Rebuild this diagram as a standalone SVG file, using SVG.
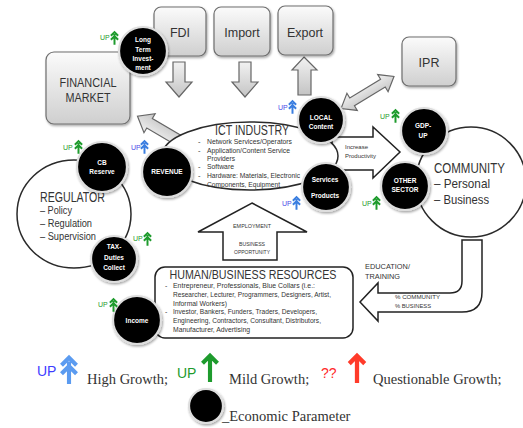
<svg xmlns="http://www.w3.org/2000/svg" xmlns:xlink="http://www.w3.org/1999/xlink" width="523" height="428" viewBox="0 0 523 428">
<style>
.box{fill:url(#gBox);stroke:#6e6e6e;stroke-width:1.2;filter:url(#sh)}
.bx{font-family:"Liberation Sans","Open Sans",sans-serif;font-size:12.5px;fill:#333;text-anchor:middle}
.garr{fill:url(#gArr);stroke:#666;stroke-width:1.2}
.warr{fill:#fff;stroke:#222;stroke-width:1.5}
.ring{fill:#fff;stroke:#2a2a2a;stroke-width:1.5}
.ep{fill:#000;stroke:#dedede;stroke-width:2.2;filter:url(#sh)}
.ept{font-family:"Liberation Sans",sans-serif;font-weight:bold;fill:#fff;text-anchor:middle;font-size:6.5px}
.t{font-family:"Liberation Sans","Open Sans",sans-serif;fill:#333}
.small{font-family:"Liberation Sans",sans-serif;fill:#333;font-size:6px}
.upb{font-family:"Liberation Sans",sans-serif;font-size:7px;fill:#4a4ae8}
.upg{font-family:"Liberation Sans",sans-serif;font-size:7px;fill:#1e9b2d}
.ser{font-family:"Liberation Serif","Times New Roman",serif;font-size:14.5px;fill:#333}
</style>
<defs>
<linearGradient id="gBox" x1="0" y1="0" x2="0" y2="1"><stop offset="0" stop-color="#fbfbfb"/><stop offset="1" stop-color="#cfcfcf"/></linearGradient>
<linearGradient id="gArr" x1="0" y1="0" x2="0" y2="1"><stop offset="0" stop-color="#f2f2f2"/><stop offset="1" stop-color="#c4c4c4"/></linearGradient>
<filter id="sh" x="-20%" y="-20%" width="150%" height="150%"><feDropShadow dx="1" dy="1.5" stdDeviation="1.3" flood-color="#000" flood-opacity="0.35"/></filter>
<symbol id="dup" viewBox="0 0 10 16"><path d="M1,6 L5,2 L9,6 M1,10.5 L5,6.5 L9,10.5 M5,4 V16" fill="none" stroke="currentColor" stroke-width="2.2"/></symbol>
<symbol id="sup" viewBox="0 0 10 16"><path d="M1,6 L5,2 L9,6 M5,3 V16" fill="none" stroke="currentColor" stroke-width="2.2"/></symbol>
</defs>
<rect width="523" height="428" fill="#fff"/>

<g id="connectors">
<path class="garr" d="M173,62 H185 V82 H192 L179,97 L166,82 H173 Z"/>
<path class="garr" d="M239,62 H251 V82 H258 L245,97 L232,82 H239 Z"/>
<path class="garr" d="M304,57 L317,70 H311 V95 H298 V70 H292 Z"/>
<path class="garr" transform="translate(367.5,92.5) rotate(-31.3)" d="M-31,0 L-18,-10 V-4.5 H18 V-10 L31,0 L18,10 V4.5 H-18 V10 Z"/>
<path class="garr" transform="translate(178,140) rotate(-149.5)" d="M0,-5.5 H33 V-11 L47,0 L33,11 V5.5 H0 Z"/>
<path class="warr" d="M332,137 H373 V127 L400,152 L373,178 V170 H332 Z"/>
<path class="warr" d="M252,203 L307,232 H277 V260 H223 V232 H198 Z"/>
<path class="warr" d="M462,240 H482 V292 Q482,312 462,312 H378 V321 L360,302 L378,283 V293 H450 Q462,293 462,281 Z"/>
</g>

<g id="financial-market"><rect class="box" x="46" y="52" width="84" height="72" rx="8"/><text class="bx" x="88" y="87" textLength="57" lengthAdjust="spacingAndGlyphs">FINANCIAL</text><text class="bx" x="88" y="102" textLength="45" lengthAdjust="spacingAndGlyphs">MARKET</text></g>
<g id="fdi"><rect class="box" x="154" y="7" width="52" height="49" rx="7"/><text class="bx" x="180" y="37">FDI</text></g>
<g id="import"><rect class="box" x="214" y="7" width="56" height="49" rx="7"/><text class="bx" x="242" y="37">Import</text></g>
<g id="export"><rect class="box" x="278" y="6" width="55" height="49" rx="7"/><text class="bx" x="305" y="37">Export</text></g>
<g id="ipr"><rect class="box" x="402" y="37" width="54" height="49" rx="7"/><text class="bx" x="429" y="67">IPR</text></g>

<g id="ict-industry">
<ellipse class="ring" cx="250" cy="156" rx="88" ry="34"/>
<text class="t" x="252" y="135" font-size="14" text-anchor="middle" textLength="74" lengthAdjust="spacingAndGlyphs">ICT INDUSTRY</text>
<g class="t" font-size="7.5">
<text x="198" y="144">-</text><text x="207" y="144" textLength="85" lengthAdjust="spacingAndGlyphs">Network Services/Operators</text>
<text x="198" y="152.5">-</text><text x="207" y="152.5" textLength="83" lengthAdjust="spacingAndGlyphs">Application/Content Service</text>
<text x="207" y="161" textLength="28" lengthAdjust="spacingAndGlyphs">Providers</text>
<text x="198" y="169">-</text><text x="207" y="169" textLength="27" lengthAdjust="spacingAndGlyphs">Software</text>
<text x="198" y="178">-</text><text x="207" y="178" textLength="93" lengthAdjust="spacingAndGlyphs">Hardware: Materials, Electronic</text>
<text x="207" y="187" textLength="73" lengthAdjust="spacingAndGlyphs">Components, Equipment</text>
</g>
</g>

<g id="regulator">
<ellipse class="ring" cx="74" cy="214" rx="57" ry="54"/>
<text class="t" x="40" y="202" font-size="14" textLength="65" lengthAdjust="spacingAndGlyphs">REGULATOR</text>
<text class="t" x="40" y="214" font-size="10" textLength="32" lengthAdjust="spacingAndGlyphs">– Policy</text>
<text class="t" x="40" y="227" font-size="10" textLength="52" lengthAdjust="spacingAndGlyphs">– Regulation</text>
<text class="t" x="40" y="240" font-size="10" textLength="56" lengthAdjust="spacingAndGlyphs">– Supervision</text>
</g>

<g id="community">
<circle class="ring" cx="471" cy="182" r="55"/>
<text class="t" x="434" y="173" font-size="14" textLength="71" lengthAdjust="spacingAndGlyphs">COMMUNITY</text>
<text class="t" x="434" y="188" font-size="13" textLength="56" lengthAdjust="spacingAndGlyphs">– Personal</text>
<text class="t" x="434" y="204" font-size="13" textLength="55" lengthAdjust="spacingAndGlyphs">– Business</text>
</g>

<g id="human-resources">
<rect x="155" y="267" width="198" height="71" rx="10" fill="#fff" stroke="#222" stroke-width="1.5"/>
<text class="t" x="253" y="279" font-size="12.5" text-anchor="middle" textLength="167" lengthAdjust="spacingAndGlyphs">HUMAN/BUSINESS RESOURCES</text>
<g class="t" font-size="7">
<text x="165" y="288">-</text><text x="173" y="288" textLength="142" lengthAdjust="spacingAndGlyphs">Entrepreneur, Professionals, Blue Collars (i.e.:</text>
<text x="173" y="297" textLength="158" lengthAdjust="spacingAndGlyphs">Researcher, Lecturer, Programmers, Designers, Artist,</text>
<text x="173" y="305.5" textLength="54" lengthAdjust="spacingAndGlyphs">Informal Workers)</text>
<text x="165" y="314">-</text><text x="173" y="314" textLength="144" lengthAdjust="spacingAndGlyphs">Investor, Bankers, Funders, Traders, Developers,</text>
<text x="173" y="323" textLength="148" lengthAdjust="spacingAndGlyphs">Engineering, Contractors, Consultant, Distributors,</text>
<text x="173" y="331.5" textLength="77" lengthAdjust="spacingAndGlyphs">Manufacturer, Advertising</text>
</g>
</g>

<g id="arrow-labels">
<text class="small" x="345" y="149" font-size="5.5">Increase</text>
<text class="small" x="345" y="158" font-size="5.5">Productivity</text>
<text class="small" x="252" y="228" text-anchor="middle" textLength="38" lengthAdjust="spacingAndGlyphs">EMPLOYMENT</text>
<text class="small" x="252" y="246" text-anchor="middle" textLength="26" lengthAdjust="spacingAndGlyphs">BUSINESS</text>
<text class="small" x="252" y="254" text-anchor="middle" textLength="36" lengthAdjust="spacingAndGlyphs">OPPORTUNITY</text>
<text class="t" x="365" y="269" font-size="7.5" textLength="45" lengthAdjust="spacingAndGlyphs">EDUCATION/</text>
<text class="t" x="365" y="278.5" font-size="7.5" textLength="35" lengthAdjust="spacingAndGlyphs">TRAINING</text>
<text class="small" x="395" y="299" font-size="5.5" textLength="45" lengthAdjust="spacingAndGlyphs">% COMMUNITY</text>
<text class="small" x="395" y="308" font-size="5.5" textLength="36" lengthAdjust="spacingAndGlyphs">% BUSINESS</text>
</g>

<g id="ep-long-term"><circle class="ep" cx="143" cy="51" r="24"/><text class="ept" x="143" y="42">Long</text><text class="ept" x="143" y="51.5">Term</text><text class="ept" x="143" y="61">Invest-</text><text class="ept" x="143" y="70">ment</text></g>
<g id="ep-local-content"><circle class="ep" cx="321" cy="120" r="23"/><text class="ept" x="321" y="120" font-size="5.5">LOCAL</text><text class="ept" x="321" y="129" font-size="5.5">Content</text></g>
<g id="ep-revenue"><circle class="ep" cx="167" cy="172" r="25"/><text class="ept" x="167" y="174" font-size="5">REVENUE</text></g>
<g id="ep-services"><circle class="ep" cx="326" cy="187" r="24"/><text class="ept" x="325" y="182" font-size="6">Services</text><text class="ept" x="325" y="198" font-size="6">Products</text></g>
<g id="ep-gdp"><circle class="ep" cx="424" cy="131" r="23"/><text class="ept" x="423" y="128">GDP-</text><text class="ept" x="423" y="138">UP</text></g>
<g id="ep-other-sector"><circle class="ep" cx="405" cy="186" r="24"/><text class="ept" x="405" y="183" font-size="6">OTHER</text><text class="ept" x="405" y="192" font-size="6">SECTOR</text></g>
<g id="ep-cb-reserve"><circle class="ep" cx="102" cy="167" r="25"/><text class="ept" x="102" y="165">CB</text><text class="ept" x="102" y="174" font-size="6">Reserve</text></g>
<g id="ep-tax"><circle class="ep" cx="114" cy="259" r="23"/><text class="ept" x="114" y="249" font-size="7">TAX-</text><text class="ept" x="114" y="259.5" font-size="7">Duties</text><text class="ept" x="114" y="270" font-size="7">Collect</text></g>
<g id="ep-income"><circle class="ep" cx="137" cy="320" r="24"/><text class="ept" x="137" y="323" font-size="6">Income</text></g>

<g id="growth-markers">
<text class="upg" x="100" y="40">UP</text><use href="#dup" x="110" y="30" width="9" height="15" style="color:#1e9b2d"/>
<text class="upb" x="278" y="110">UP</text><use href="#dup" x="288" y="99" width="9" height="15" style="color:#3a7ee0"/>
<text class="upg" x="380" y="119">UP</text><use href="#dup" x="391" y="108" width="9" height="15" style="color:#1e9b2d"/>
<text class="upb" x="131" y="150">UP</text><use href="#dup" x="140" y="139" width="9" height="15" style="color:#3a7ee0"/>
<text class="upb" x="282" y="206">UP</text><use href="#dup" x="292" y="195" width="9" height="15" style="color:#3a7ee0"/>
<text class="upg" x="362" y="206">UP</text><use href="#dup" x="372" y="195" width="9" height="15" style="color:#1e9b2d"/>
<text class="upg" x="63" y="150">UP</text><use href="#dup" x="74" y="139" width="9" height="15" style="color:#1e9b2d"/>
<text class="upg" x="133" y="241">UP</text><use href="#dup" x="143" y="231" width="9" height="15" style="color:#1e9b2d"/>
<text class="upg" x="98" y="307">UP</text><use href="#dup" x="109" y="297" width="9" height="15" style="color:#1e9b2d"/>
</g>

<g id="legend">
<text x="37" y="376" font-family="Liberation Sans,sans-serif" font-size="14" fill="#3d3dff">UP</text>
<use href="#dup" x="59" y="354" width="20" height="30" style="color:#5b9bf0"/>
<text class="ser" x="87" y="384">High Growth;</text>
<text x="177" y="378" font-family="Liberation Sans,sans-serif" font-size="14" fill="#1e9b2d">UP</text>
<use href="#sup" x="199" y="352" width="22" height="30" style="color:#1e9b2d"/>
<text class="ser" x="229" y="384">Mild Growth;</text>
<text x="321" y="378" font-family="Liberation Sans,sans-serif" font-size="14" fill="#ff2a2a">??</text>
<use href="#sup" x="346" y="352" width="22" height="31" style="color:#ff3b2a"/>
<text class="ser" x="373" y="384">Questionable Growth;</text>
<circle class="ep" cx="206" cy="406" r="17"/>
<text class="ser" x="222" y="421">_Economic Parameter</text>
</g>
</svg>
